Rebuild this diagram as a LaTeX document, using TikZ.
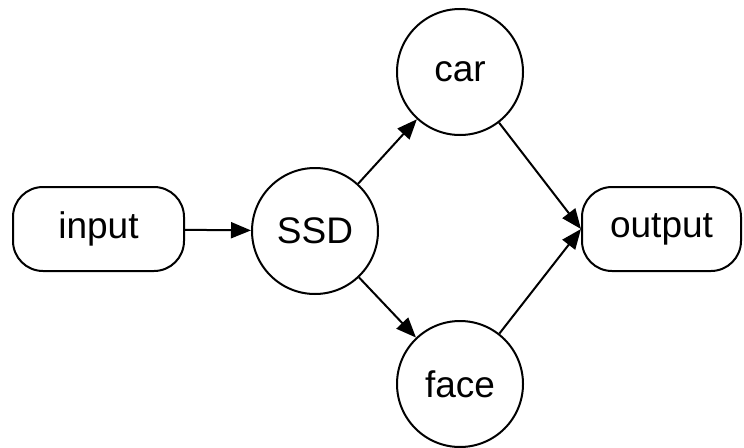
\documentclass[tikz,border=0pt]{standalone}
\usepackage{fontspec}
\setmainfont{Liberation Sans}
\usetikzlibrary{arrows.meta}
\begin{document}
\begin{tikzpicture}[x=1pt,y=-1pt,
  every node/.style={font=\fontsize{37}{40}\selectfont, line width=2pt, draw, inner sep=0pt},
  term/.style={rounded corners=30pt, minimum height=84pt},
  proc/.style={circle, minimum size=126pt},
  conn/.style={line width=2pt, -{Triangle[length=20pt,width=16pt]}}]
\useasboundingbox (0,0) rectangle (744,447);
\node[term, minimum width=171pt] (input) at (98.5,229) {input};
\node[proc] (ssd) at (315,231) {SSD};
\node[proc] (car) at (460,72) {car};
\node[proc] (face) at (460,384) {face};
\node[term, minimum width=159pt] (output) at (661.5,229) {output};
\draw[conn] (input) -- (ssd);
\draw[conn] (ssd) -- (car);
\draw[conn] (ssd) -- (face);
\draw[conn] (car) -- (output.west);
\draw[conn] (face) -- (output.west);
\end{tikzpicture}
\end{document}
